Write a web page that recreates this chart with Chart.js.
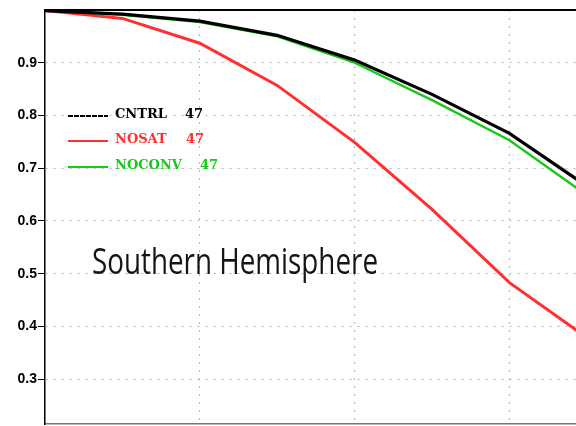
<!DOCTYPE html>
<html>
<head>
<meta charset="utf-8">
<script src="https://cdn.jsdelivr.net/npm/chart.js@4/dist/chart.umd.min.js"></script>
<style>
  html, body { margin: 0; padding: 0; background: #fff; overflow: hidden; }
  canvas { display: block; }
</style>
</head>
<body>
<canvas id="c" width="576" height="426"></canvas>
<script>
// Forecast lead time (days) and anomaly correlation for each experiment
const days   = [0, 0.5, 1, 1.5, 2, 2.5, 3, 3.5];
const cntrl  = [0.999, 0.992, 0.979, 0.952, 0.905, 0.840, 0.766, 0.666];
const nosat  = [0.999, 0.984, 0.937, 0.857, 0.749, 0.622, 0.483, 0.379];
const noconv = [0.999, 0.991, 0.977, 0.950, 0.900, 0.829, 0.753, 0.649];

const seriesNames  = ['CNTRL', 'NOSAT', 'NOCONV'];
const seriesCounts = ['47', '47', '47'];
const yTickValues  = [0.3, 0.4, 0.5, 0.6, 0.7, 0.8, 0.9];
const xGridValues  = [1, 2, 3];
const panelTitle   = 'Southern Hemisphere';

const colors = ['#000000', '#ff3030', '#18c818'];

const pts = arr => days.map((d, i) => ({ x: d, y: arr[i] }));

// Legend block and panel title drawn on the canvas
const overlay = {
  id: 'overlay',
  afterDraw(chart) {
    const ctx = chart.ctx;
    const area = chart.chartArea;
    ctx.save();
    // heavy top frame line
    ctx.strokeStyle = '#000';
    ctx.lineWidth = 2;
    ctx.beginPath();
    ctx.moveTo(area.left, area.top);
    ctx.lineTo(area.right, area.top);
    ctx.stroke();

    // legend
    const rows = [115, 140, 166];
    const numX = [185, 186, 200];
    ctx.font = 'bold 13px "DejaVu Serif"';
    ctx.textBaseline = 'middle';
    seriesNames.forEach((name, i) => {
      ctx.strokeStyle = colors[i];
      ctx.lineWidth = 2;
      ctx.setLineDash(i === 0 ? [5, 1] : []);
      ctx.beginPath();
      ctx.moveTo(68, rows[i] + 1);
      ctx.lineTo(108, rows[i] + 1);
      ctx.stroke();
      ctx.setLineDash([]);
      ctx.fillStyle = colors[i];
      ctx.fillText(name, 115, rows[i]);
      ctx.fillText(seriesCounts[i], numX[i], rows[i]);
    });

    // panel title
    ctx.font = '36px "Open Sans"';
    ctx.textBaseline = 'alphabetic';
    ctx.fillStyle = '#151515';
    const w = ctx.measureText(panelTitle).width;
    const target = 286;
    ctx.translate(92, 274);
    ctx.scale(target / w, 1);
    ctx.fillText(panelTitle, 0, 0);
    ctx.restore();
  }
};

new Chart(document.getElementById('c'), {
  type: 'line',
  data: {
    datasets: [
      { label: seriesNames[0], data: pts(cntrl),  borderColor: colors[0], borderWidth: 3.2 },
      { label: seriesNames[1], data: pts(nosat),  borderColor: colors[1], borderWidth: 3 },
      { label: seriesNames[2], data: pts(noconv), borderColor: colors[2], borderWidth: 2.4 }
    ]
  },
  options: {
    responsive: false,
    devicePixelRatio: 1,
    animation: false,
    events: [],
    layout: { padding: { top: 10, right: 0, bottom: 1, left: 0 } },
    elements: {
      point: { radius: 0 },
      line: { tension: 0, fill: false, borderCapStyle: 'butt' }
    },
    plugins: {
      legend: { display: false },
      tooltip: { enabled: false },
      title: { display: false }
    },
    scales: {
      x: {
        type: 'linear',
        min: 0,
        max: 3.43,
        afterBuildTicks: s => { s.ticks = xGridValues.map(v => ({ value: v })); },
        afterFit: s => { s.height = 1; s.paddingLeft = 0; s.paddingRight = 0; },
        ticks: { display: false },
        grid: { color: '#b4b4b4', lineWidth: 1, drawTicks: false },
        border: { color: '#777', width: 1.5, dash: [2, 6] }
      },
      y: {
        type: 'linear',
        min: 0.215,
        max: 1.0,
        afterBuildTicks: s => { s.ticks = yTickValues.map(v => ({ value: v })); },
        afterFit: s => { s.width = 45; s.paddingTop = 0; s.paddingBottom = 0; },
        ticks: {
          padding: 1,
          color: '#000',
          font: { family: '"Liberation Sans"', size: 14, weight: 'bold' },
          callback: v => v.toFixed(1)
        },
        grid: {
          color: '#b4b4b4',
          lineWidth: 1,
          tickColor: '#000',
          tickLength: 7,
          tickWidth: 1
        },
        border: { color: '#000', width: 1.5, dash: [2, 6] }
      }
    }
  },
  plugins: [overlay]
});
</script>
</body>
</html>
